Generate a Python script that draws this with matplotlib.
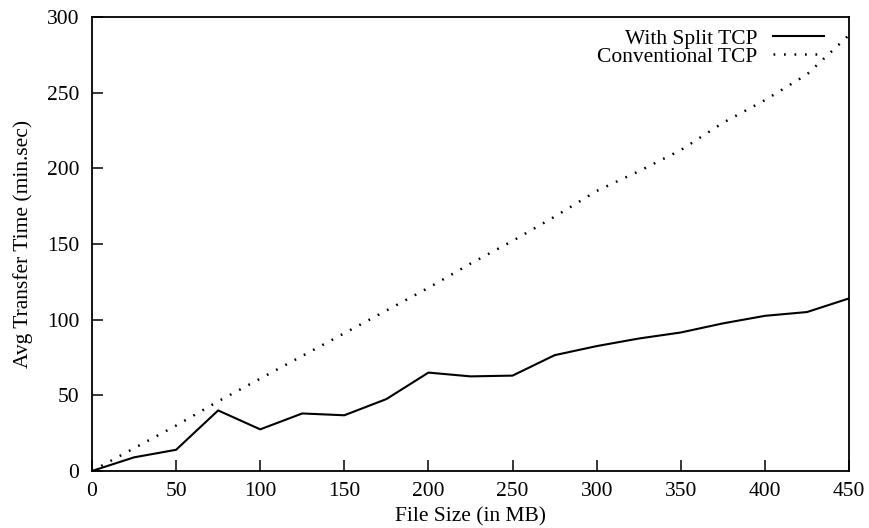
import matplotlib
matplotlib.use("Agg")
import matplotlib.pyplot as plt

# file sizes (MB) and average transfer times
file_size = [0, 25, 50, 75, 100, 125, 150, 175, 200, 225,
             250, 275, 300, 325, 350, 375, 400, 425, 450]
split_tcp = [0, 9, 14, 40, 27.5, 38, 36.8, 47.5, 65, 62.5,
             63, 76.5, 82.5, 87.5, 91.5, 97.5, 102.5, 105, 114]
conv_tcp = [0, 15, 30, 46, 61, 76, 91, 106, 121, 137,
            152, 168, 185, 198, 212, 230, 245, 262, 288]

x_ticks = [0, 50, 100, 150, 200, 250, 300, 350, 400, 450]
y_ticks = [0, 50, 100, 150, 200, 250, 300]

plt.rcParams['font.family'] = ['Liberation Serif', 'DejaVu Serif']
plt.rcParams['font.size'] = 15.5

fig = plt.figure(figsize=(8.7, 5.28), dpi=100)
ax = fig.add_axes([0.1057, 0.108, 0.8702, 0.86])

ax.plot(file_size, split_tcp, color="black", linewidth=1.5, label="With Split TCP")
ax.plot(file_size, conv_tcp, color="black", linewidth=1.8,
        linestyle=(0, (0.7, 3.5)), label="Conventional TCP")

ax.set_xlim(0, 450)
ax.set_ylim(0, 300)
ax.set_xticks(x_ticks)
ax.set_yticks(y_ticks)
ax.tick_params(direction="in", length=8, width=1.1, top=False, right=False)
ax.tick_params(axis="y", pad=9)
ax.tick_params(axis="x", pad=8)
for sp in ax.spines.values():
    sp.set_linewidth(1.3)

ax.set_xlabel("File Size (in MB)", labelpad=4.5)
ax.set_ylabel("Avg Transfer Time (min.sec)", labelpad=10)

ax.legend(loc="upper right", bbox_to_anchor=(0.983, 1.0), frameon=False,
          markerfirst=False, handlelength=2.4, handletextpad=0.7,
          labelspacing=-0.1, borderaxespad=0.15, fontsize=15.5)

fig.savefig("out.png", dpi=100)
